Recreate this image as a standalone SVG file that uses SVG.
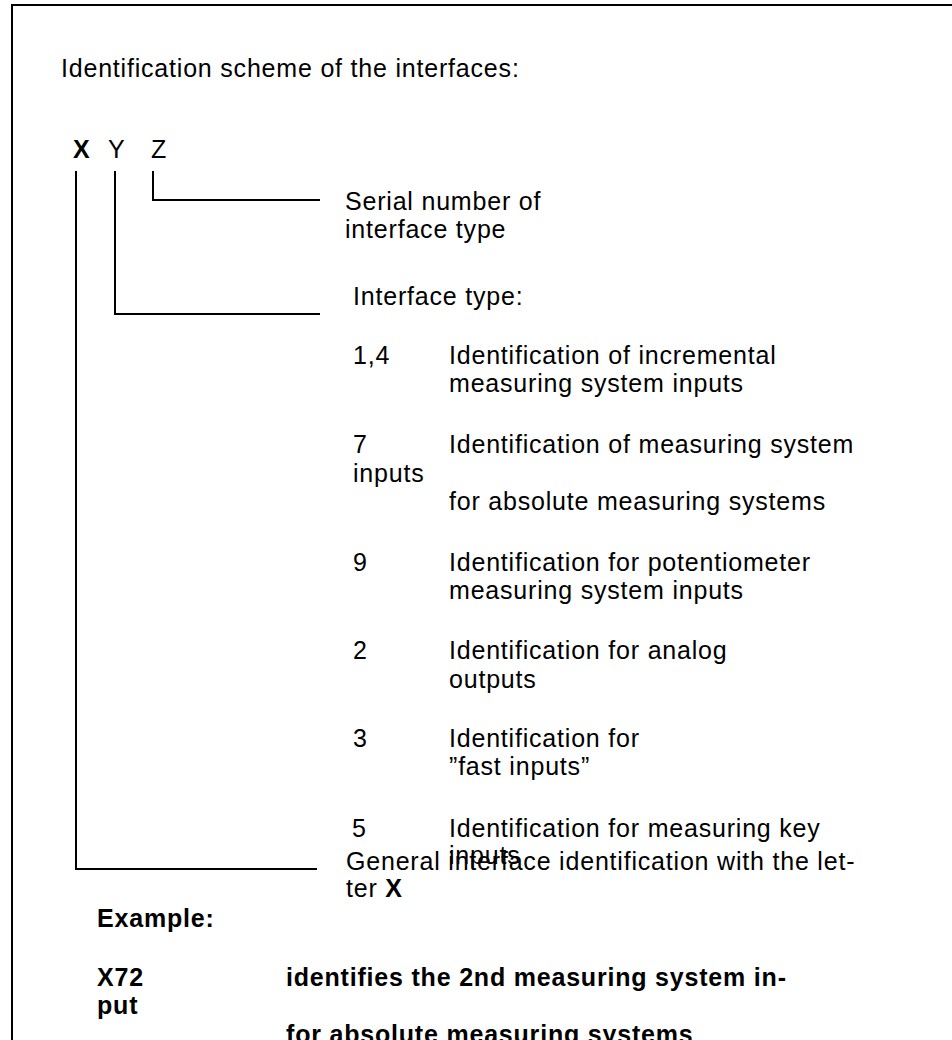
<svg xmlns="http://www.w3.org/2000/svg" width="952" height="1040" viewBox="0 0 952 1040">
<style>
  text { font-family: "Liberation Sans", Arial, Helvetica, sans-serif; font-size: 25px; letter-spacing: 0.8px; fill: #000; }
  .b { font-weight: bold; }
  .ln { stroke: #000; stroke-width: 2; fill: none; }
</style>
<rect x="0" y="0" width="952" height="1040" fill="#fff"/>
<g id="frame">
  <path class="ln" d="M12,1040 V5 H952"/>
</g>
<g id="title">
  <text x="61" y="77">Identification scheme of the interfaces:</text>
</g>
<g id="code">
  <text x="73" y="158" class="b">X</text>
  <text x="108" y="158">Y</text>
  <text x="151" y="158">Z</text>
</g>
<g id="connectors">
  <path class="ln" d="M153,171 V200 H320"/>
  <path class="ln" d="M115,171 V314 H320"/>
  <path class="ln" d="M76,171 V869 H317"/>
</g>
<g id="serial">
  <text x="345" y="210">Serial number of</text>
  <text x="345" y="238">interface type</text>
</g>
<g id="type">
  <text x="353" y="305">Interface type:</text>
  <g id="type-14">
    <text x="353" y="364">1,4</text>
    <text x="449" y="364">Identification of incremental</text>
    <text x="449" y="392">measuring system inputs</text>
  </g>
  <g id="type-7">
    <text x="353" y="453">7</text>
    <text x="449" y="453">Identification of measuring system</text>
    <text x="353" y="481.5">inputs</text>
    <text x="449" y="510">for absolute measuring systems</text>
  </g>
  <g id="type-9">
    <text x="353" y="570.5">9</text>
    <text x="449" y="570.5">Identification for potentiometer</text>
    <text x="449" y="599">measuring system inputs</text>
  </g>
  <g id="type-2">
    <text x="353" y="659">2</text>
    <text x="449" y="659">Identification for analog</text>
    <text x="449" y="688">outputs</text>
  </g>
  <g id="type-3">
    <text x="353" y="747">3</text>
    <text x="449" y="747">Identification for</text>
    <text x="449" y="775">”fast inputs”</text>
  </g>
  <g id="type-5">
    <text x="352" y="836.5">5</text>
    <text x="449" y="836.5">Identification for measuring key</text>
    <text x="449" y="864">inputs</text>
  </g>
</g>
<g id="general">
  <text x="346" y="870">General interface identification with the let-</text>
  <text x="346" y="897">ter <tspan class="b">X</tspan></text>
</g>
<g id="example">
  <text x="97" y="927" class="b">Example:</text>
  <text x="97" y="986" class="b">X72</text>
  <text x="286" y="986" class="b">identifies the 2nd measuring system in-</text>
  <text x="97" y="1014" class="b">put</text>
  <text x="286" y="1043" class="b">for absolute measuring systems</text>
</g>
</svg>
